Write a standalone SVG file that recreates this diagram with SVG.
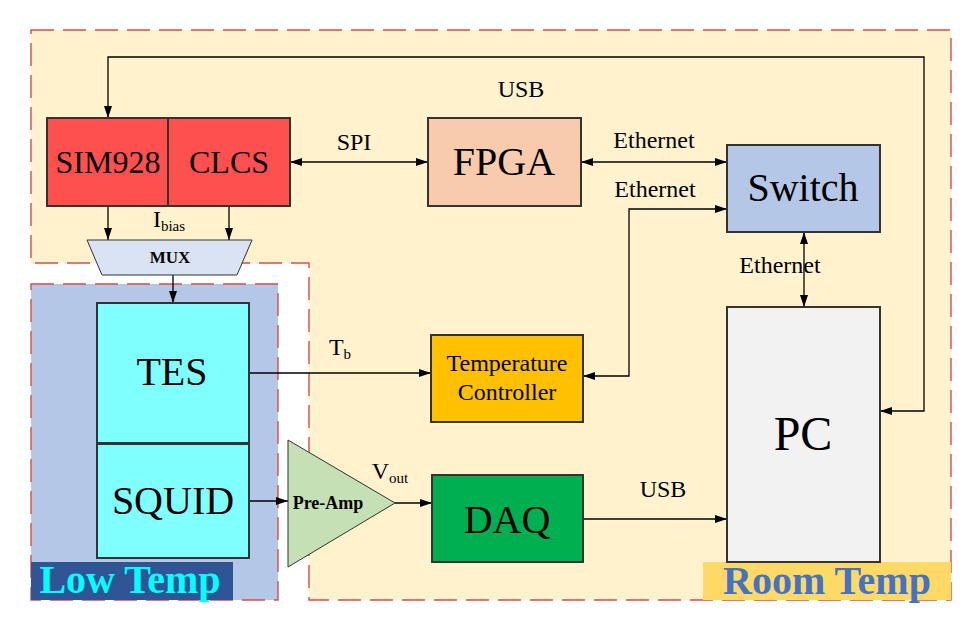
<svg xmlns="http://www.w3.org/2000/svg" width="966" height="625" viewBox="0 0 966 625">
<defs>
<marker id="ah" viewBox="0 0 12 8" refX="12" refY="4" markerWidth="12" markerHeight="8" markerUnits="userSpaceOnUse" orient="auto-start-reverse">
<path d="M0,0 L12,4 L0,8 Z" fill="#000"/>
</marker>
<style>
.zone{stroke:#DC4A4A;stroke-width:1.4;stroke-dasharray:23 9;}
.box{stroke:#333;stroke-width:2;}
.c{fill:none;stroke:#000;stroke-width:1.3;}
.t{font-family:"Liberation Serif","Times New Roman",serif;fill:#000;text-anchor:middle;}
.b{font-weight:bold;}
</style>
</defs>
<rect width="966" height="625" fill="#fff"/>
<g id="room-temp">
<polygon class="zone" points="31,30 951,30 951,600 309,600 309,263 31,263" fill="#FFF2CC"/>
<rect x="703" y="562" width="248" height="38" fill="#FFD966"/>
<text class="t b" x="827" y="594" font-size="40" style="fill:#4472C4">Room Temp</text>
</g>
<g id="low-temp">
<rect class="zone" x="31" y="284" width="247" height="316" fill="#B4C7E7"/>
<rect x="31" y="562" width="202" height="38" fill="#2F5597"/>
<text class="t b" x="130" y="593" font-size="40" style="fill:#00FFFF">Low Temp</text>
</g>
<g id="connectors">
<polyline class="c" points="108,118 108,57 924,57 924,411 880,411" marker-start="url(#ah)" marker-end="url(#ah)"/>
<line class="c" x1="108" y1="206" x2="108" y2="240" marker-end="url(#ah)"/>
<line class="c" x1="229" y1="206" x2="229" y2="240" marker-end="url(#ah)"/>
<line class="c" x1="173" y1="275" x2="173" y2="303" marker-end="url(#ah)"/>
<line class="c" x1="290" y1="162" x2="428" y2="162" marker-start="url(#ah)" marker-end="url(#ah)"/>
<line class="c" x1="581" y1="162" x2="727" y2="162" marker-start="url(#ah)" marker-end="url(#ah)"/>
<polyline class="c" points="583,376 629,376 629,209 727,209" marker-start="url(#ah)" marker-end="url(#ah)"/>
<line class="c" x1="804" y1="232" x2="804" y2="307" marker-start="url(#ah)" marker-end="url(#ah)"/>
<line class="c" x1="249" y1="373" x2="431" y2="373" marker-end="url(#ah)"/>
<line class="c" x1="249" y1="501" x2="288" y2="501" marker-end="url(#ah)"/>
<line class="c" x1="395" y1="503" x2="432" y2="503" marker-end="url(#ah)"/>
<line class="c" x1="583" y1="519" x2="727" y2="519" marker-end="url(#ah)"/>
<text class="t" x="521" y="97" font-size="24">USB</text>
<text class="t" x="354" y="150" font-size="24">SPI</text>
<text class="t" x="654" y="148" font-size="24">Ethernet</text>
<text class="t" x="655" y="197" font-size="24">Ethernet</text>
<text class="t" x="780" y="273" font-size="24">Ethernet</text>
<text class="t" x="663" y="497" font-size="24">USB</text>
<text class="t" x="169" y="227" font-size="24">I<tspan font-size="15" dy="4">bias</tspan></text>
<text class="t" x="340" y="355" font-size="24">T<tspan font-size="15" dy="4">b</tspan></text>
<text class="t" x="390" y="479" font-size="24">V<tspan font-size="15" dy="4">out</tspan></text>
</g>
<g id="sim928">
<rect class="box" x="47" y="118" width="121" height="88" fill="#FF5050"/>
<text class="t" x="108" y="173" font-size="32">SIM928</text>
</g>
<g id="clcs">
<rect class="box" x="168" y="118" width="122" height="88" fill="#FF5050"/>
<text class="t" x="229" y="173" font-size="32">CLCS</text>
</g>
<g id="mux">
<polygon points="87,240 252,240 237,275 102,275" fill="#DAE3F3" stroke="#333" stroke-width="1"/>
<text class="t b" x="170" y="263" font-size="17">MUX</text>
</g>
<g id="fpga">
<rect class="box" x="428" y="118" width="153" height="88" fill="#F8CBAD"/>
<text class="t" x="504" y="175" font-size="40">FPGA</text>
</g>
<g id="switch">
<rect class="box" x="727" y="145" width="153" height="87" fill="#B4C7E7"/>
<text class="t" x="803" y="201" font-size="40">Switch</text>
</g>
<g id="tes">
<rect class="box" x="97" y="303" width="152" height="140" fill="#80FFFF"/>
<text class="t" x="172" y="385" font-size="40">TES</text>
</g>
<g id="squid">
<rect class="box" x="97" y="444" width="152" height="114" fill="#80FFFF"/>
<text class="t" x="173" y="514" font-size="40">SQUID</text>
</g>
<g id="temperature-controller">
<rect class="box" x="431" y="335" width="152" height="87" fill="#FFC000"/>
<text class="t" x="507" y="371" font-size="24">Temperature</text>
<text class="t" x="507" y="400" font-size="24">Controller</text>
</g>
<g id="pre-amp">
<polygon points="288,440 395,503 288,567" fill="#C5E0B4" stroke="#333" stroke-width="1"/>
<text class="t b" x="328" y="509" font-size="18">Pre-Amp</text>
</g>
<g id="daq">
<rect class="box" x="432" y="475" width="151" height="87" fill="#00B050"/>
<text class="t" x="507" y="533" font-size="40">DAQ</text>
</g>
<g id="pc">
<rect class="box" x="727" y="307" width="153" height="255" fill="#F2F2F2"/>
<text class="t" x="803" y="450" font-size="48">PC</text>
</g>
</svg>
